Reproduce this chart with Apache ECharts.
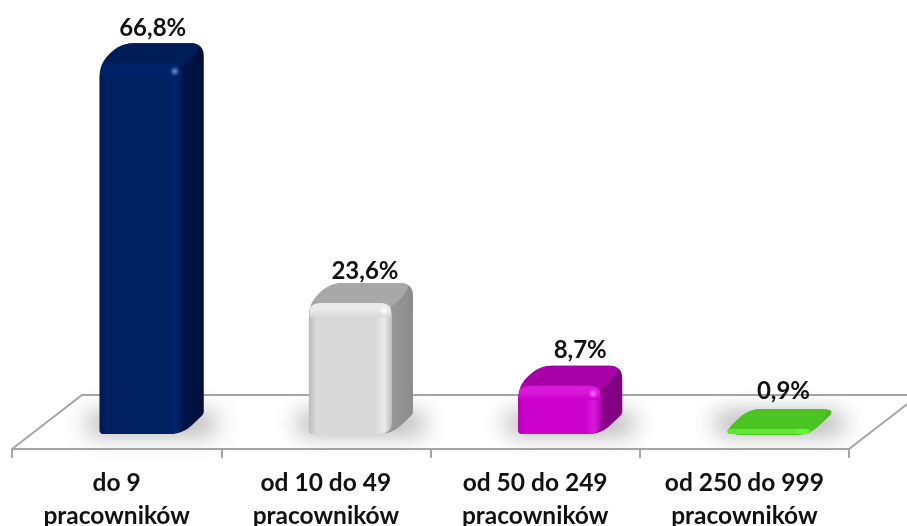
<!DOCTYPE html>
<html><head><meta charset="utf-8">
<style>html,body{margin:0;padding:0;background:#fff}#c{width:907px;height:526px}</style>
<script src="https://cdn.jsdelivr.net/npm/echarts@6/dist/echarts.min.js"></script>
</head><body><div id="c"></div>
<script>
const categories = ['do 9\npracowników','od 10 do 49\npracowników','od 50 do 249\npracowników','od 250 do 999\npracowników'];
const values = [66.8, 23.6, 8.7, 0.9];
const valueLabels = ['66,8%','23,6%','8,7%','0,9%'];
const labelNudgeX = [-2, 1, 7, 1];
const labelNudgeY = [0, 3, 0, -3];
const faceColors = [
  {edge:'#001a52', mid:'#002060', light:'#00236a', top:'#001d58', side:'#00134a', sideD:'#000f3a', spot:'#6f8fd0'},
  {edge:'#bcbcbc', mid:'#d9d9d9', light:'#eaeaea', top:'#a8a8a8', side:'#969696', sideD:'#8c8c8c', spot:'#ffffff'},
  {edge:'#b800b8', mid:'#cc00cc', light:'#d81ad8', top:'#a800a8', side:'#8a008a', sideD:'#7c007c', spot:'#ff66ff'},
  {edge:'#5fe830', mid:'#5fe830', light:'#66ff33', top:'#4cc424', side:'#4cc424', sideD:'#44b820', spot:'#4cc424'}
];
const FONT = '"Lato","Carlito","Open Sans",sans-serif';
const LINE = '#a6a6a6';

function rounded(corners, radii){
  const pts = [], n = corners.length, steps = 6;
  for (let i=0;i<n;i++){
    const p = corners[i], a = corners[(i+n-1)%n], b = corners[(i+1)%n];
    const r = Array.isArray(radii)?radii[i]:radii;
    const la = Math.hypot(a[0]-p[0],a[1]-p[1]), lb = Math.hypot(b[0]-p[0],b[1]-p[1]);
    const ra = Math.min(r,la/2), rb = Math.min(r,lb/2);
    const s = [p[0]+(a[0]-p[0])*ra/la, p[1]+(a[1]-p[1])*ra/la];
    const e = [p[0]+(b[0]-p[0])*rb/lb, p[1]+(b[1]-p[1])*rb/lb];
    for (let k=0;k<=steps;k++){
      const t=k/steps, u=1-t;
      pts.push([u*u*s[0]+2*u*t*p[0]+t*t*e[0], u*u*s[1]+2*u*t*p[1]+t*t*e[1]]);
    }
  }
  return pts;
}
const hGrad = (stops)=>({type:'linear',x:0,y:0,x2:1,y2:0,colorStops:stops});

function renderFloor(params, api){
  const g = params.coordSys, bottom = g.y+g.height, left = g.x, right = g.x+g.width;
  const dx = 70, dy = 54;
  return {type:'group', children:[
    {type:'polyline', shape:{points:[[left,bottom],[left+dx,bottom-dy],[right+dx,bottom-dy]]},
      style:{stroke:LINE,lineWidth:2,fill:null}},
    {type:'line', shape:{x1:right,y1:bottom,x2:right+dx,y2:bottom-dy},
      style:{stroke:LINE,lineWidth:2}}
  ]};
}

function renderBar(params, api){
  const i = params.dataIndex, c = faceColors[i];
  const center = api.coord([api.value(0),0]);
  const top = api.coord([api.value(0),api.value(1)]);
  const band = api.size([1,0])[0];
  const L = center[0]-band*0.081, W = band*0.397, R = L+W, B = center[1], T = top[1];
  const dx = 21, dy = 20, h = B-T;
  const r = Math.min(13, Math.max(2,h));
  const sil = [[L,B],[L,T],[L+dx,T-dy],[R+dx,T-dy],[R+dx,B-dy],[R,B]];
  const kids = [];
  /* soft floor shadow: only the blurred shadow of an off-canvas rect reaches the picture */
  kids.push({type:'rect', shape:{x:L-12-3000,y:B-20,width:W+dx+24,height:19,r:8},
    style:{fill:'#000',shadowBlur:24,shadowOffsetX:3000,shadowColor:'rgba(70,70,70,0.5)'}});
  kids.push({type:'polygon', shape:{points:rounded(sil,[4,13,13,13,3,13])}, style:{fill:hGrad([{offset:0,color:c.top},{offset:0.8,color:c.side},{offset:1,color:c.sideD}])}});
  kids.push({type:'polygon', shape:{points:rounded([[L,T+6],[L+dx,T-dy],[R+dx,T-dy],[R,T+6]],13)},
    style:{fill:c.top}});
  kids.push({type:'polygon', shape:{points:rounded([[L,B],[L,T],[R,T],[R,B]],[4,r,r,Math.max(r,4)])},
    style:{fill:hGrad([{offset:0,color:c.edge},{offset:0.09,color:c.mid},{offset:0.8,color:c.mid},
      {offset:0.91,color:c.light},{offset:1,color:c.edge}])}});
  if (h>20){
    kids.push({type:'polygon', shape:{points:rounded([[L+1,T+14],[L+1,T],[R-1,T],[R-1,T+14]],[1,r,r,1])},
      style:{fill:{type:'linear',x:0,y:0,x2:0,y2:1,colorStops:[{offset:0,color:c.light},{offset:0.45,color:c.light},{offset:1,color:c.mid}]}}});
    kids.push({type:'circle', shape:{cx:R-8,cy:T+8,r:5},
      style:{fill:{type:'radial',x:0.5,y:0.5,r:0.5,colorStops:[{offset:0,color:c.spot},{offset:1,color:c.spot+'00'}]}}});
  }
  kids.push({type:'text', style:{text:valueLabels[i], x:L+W/2+dx/2+3+labelNudgeX[i], y:T-dy-15+labelNudgeY[i],
    font:'bold 24px '+FONT, fill:'#111111', align:'center', verticalAlign:'middle'}});
  return {type:'group', children:kids};
}

const chart = echarts.init(document.getElementById('c'), null, {renderer:'canvas'});
chart.setOption({
  animation:false,
  backgroundColor:'#ffffff',
  grid:{left:12,width:837,top:45.5,height:403.5,containLabel:false,outerBoundsMode:'none'},
  xAxis:{type:'category',data:categories,
    axisLine:{onZero:false,lineStyle:{color:LINE,width:2}},
    axisTick:{show:true,length:9,lineStyle:{color:LINE,width:2}},
    axisLabel:{interval:0,margin:18,color:'#111111',fontFamily:FONT,fontWeight:'bold',fontSize:24.5,lineHeight:33}},
  yAxis:{type:'value',min:-2.7,max:70,show:false,splitLine:{show:false}},
  series:[
    {type:'custom',name:'floor',coordinateSystem:'cartesian2d',clip:false,silent:true,z:1,
     renderItem:renderFloor,data:[[0,0]],encode:{x:0,y:1}},
    {type:'custom',name:'udział',coordinateSystem:'cartesian2d',clip:false,z:3,
     renderItem:renderBar,data:values.map((v,i)=>[i,v]),encode:{x:0,y:1}}
  ]
});
</script></body></html>
